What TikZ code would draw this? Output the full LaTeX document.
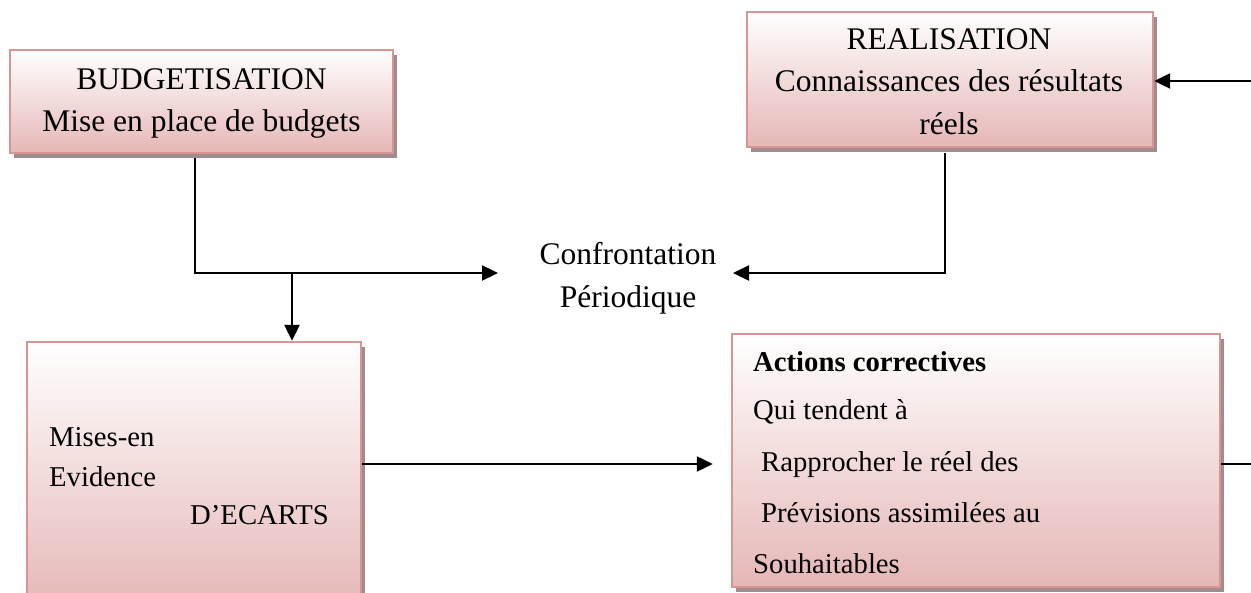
\documentclass[tikz,border=0pt]{standalone}
\usepackage{fontspec}
\setmainfont{Liberation Serif}
\usetikzlibrary{arrows.meta,shadows}

\definecolor{boxedge}{RGB}{217,149,148}
\definecolor{boxbottom}{RGB}{229,183,182}
\definecolor{boxshade}{RGB}{160,140,140}

\tikzset{
  pinkbox/.style={draw=boxedge, line width=2.4pt, rectangle, inner sep=0pt,
    top color=white, bottom color=boxbottom,
    general shadow={fill=boxshade, shadow xshift=4pt, shadow yshift=-5pt}},
  bigtxt/.style={inner sep=0pt, font=\fontsize{31.5}{42}\selectfont},
  smalltxt/.style={inner sep=0pt, font=\fontsize{28.7}{38}\selectfont},
  link/.style={line width=2.3pt, draw=black},
  arr/.style={link, -{Triangle[length=16pt,width=15pt]}}
}

\begin{document}
\begin{tikzpicture}[x=1pt,y=-1pt]
\useasboundingbox (0,0) rectangle (1251,593);
\clip (0,0) rectangle (1251,593);

% boxes
\node[pinkbox, minimum width=383pt, minimum height=103pt] (budget) at (201.5,101.5) {};
\node[pinkbox, minimum width=406pt, minimum height=135pt] (realis) at (950,79.5) {};
\node[pinkbox, minimum width=334pt, minimum height=268pt] (ecarts) at (194,476) {};
\node[pinkbox, minimum width=488pt, minimum height=253pt] (actions) at (976,460.5) {};

% box texts
\node[bigtxt, anchor=base] (budgetA) at (201.5,90) {BUDGETISATION};
\node[bigtxt, anchor=base] (budgetB) at (201.5,132) {Mise en place de budgets};
\node[bigtxt, anchor=base] (realisA) at (949,50) {REALISATION};
\node[bigtxt, anchor=base] (realisB) at (949,92) {Connaissances des résultats};
\node[bigtxt, anchor=base] (realisC) at (949,135) {réels};
\node[bigtxt, anchor=base] (confA) at (628,265) {Confrontation};
\node[bigtxt, anchor=base] (confB) at (628,308) {Périodique};

\node[smalltxt, anchor=base west] (ecartsA) at (49,447) {Mises-en};
\node[smalltxt, anchor=base west] (ecartsB) at (49,486) {Evidence};
\node[smalltxt, anchor=base west] (ecartsC) at (190,525) {D’ECARTS};

\node[smalltxt, anchor=base west, font=\fontsize{28.7}{38}\selectfont\bfseries] (actA) at (753,372) {Actions correctives};
\node[smalltxt, anchor=base west] (actB) at (753,420) {Qui tendent à};
\node[smalltxt, anchor=base west] (actC) at (761,472) {Rapprocher le réel des};
\node[smalltxt, anchor=base west] (actD) at (761,522) {Prévisions assimilées au};
\node[smalltxt, anchor=base west] (actE) at (753,573) {Souhaitables};

% junctions and free ends
\coordinate (jl) at (195,273);
\coordinate (jd) at (292,273);
\coordinate (jr) at (945,273);
\coordinate (cl) at (498,273);
\coordinate (cr) at (733,273);
\coordinate (rin) at (1251,81);
\coordinate (aout) at (1251,464);
\coordinate (mid) at (0,464);

% connectors
\draw[arr] ([yshift=-4pt]budget.south -| jl) -- (jl) -- (cl);
\draw[arr] (jd) -- (jd |- ecarts.north);
\draw[arr] ([yshift=-5pt]realis.south -| jr) -- (jr) -- (cr);
\draw[arr] (rin) -- (rin -| realis.east);
\draw[arr, shorten >=18pt] (ecarts.east |- mid) -- (actions.west |- mid);
\draw[link] (actions.east |- aout) -- (aout);
\end{tikzpicture}
\end{document}
